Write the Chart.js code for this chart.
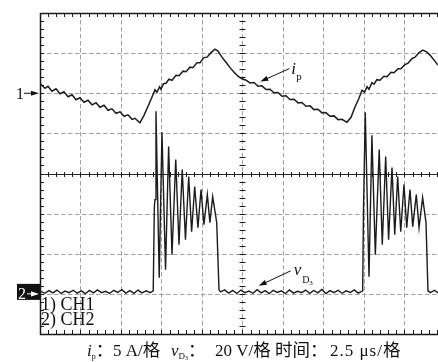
<!DOCTYPE html>
<html>
<head>
<meta charset="utf-8">
<script src="https://cdn.jsdelivr.net/npm/chart.js@4.4.0/dist/chart.umd.min.js"></script>
<style>
  html, body { margin: 0; padding: 0; background: #fff; }
</style>
</head>
<body>
<canvas id="scope" width="438" height="362"></canvas>
<script>
// time in μs, CH1 = i_p in A (5 A/div), CH2 = v_D3 in V (20 V/div)
const timeRange = [0, 24.57];
const currentRange = [-30, 10];
const voltageRange = [-20, 140];
const timePerDiv = 2.5;
const currentPerDiv = 5;

const ch1Time = [0.06, 0.31, 0.49, 0.74, 0.99, 1.23, 1.48, 1.73, 1.98, 2.22, 2.47, 2.72, 2.96, 3.21, 3.46, 3.70, 3.95, 4.20, 4.44, 4.69, 4.94, 5.19, 5.43, 5.68, 5.86, 6.17,
  6.42, 6.67, 6.91, 7.10, 7.22, 7.38, 7.47, 7.62,
  7.78, 7.96, 8.15, 8.40, 8.58, 8.83, 9.01, 9.26, 9.44, 9.69, 9.88, 10.12, 10.31, 10.56, 10.80,
  10.99, 11.23, 11.48, 11.73, 11.98, 12.22, 12.47, 12.72,
  12.96, 13.21, 13.46, 13.70, 13.95, 14.20, 14.44, 14.69, 14.94, 15.19, 15.43, 15.68, 15.93, 16.17, 16.42, 16.67, 16.91, 17.16, 17.41, 17.65, 17.90, 18.15, 18.40, 18.64, 18.95,
  19.20, 19.44, 19.69, 19.88, 20.03, 20.19, 20.31,
  20.49, 20.62, 20.80, 20.99, 21.23, 21.42, 21.67, 21.85, 22.10, 22.28, 22.53, 22.72, 22.96, 23.15, 23.40, 23.64, 23.89, 24.14, 24.38, 24.57];
const ch1Current = [1.12, 0.62, 0.87, 0.25, 0.56, -0.06, 0.19, -0.44, -0.19, -0.81, -0.56, -1.12, -0.87, -1.44, -1.19, -1.75, -1.50, -2.12, -1.94, -2.50, -2.31, -2.87, -2.69, -3.25, -3.12, -3.69,
  -2.75, -1.62, -0.50, 0.44, 0.12, 0.81, 0.50, 1.19,
  1.25, 1.75, 1.62, 2.25, 2.19, 2.75, 2.69, 3.25, 3.19, 3.81, 3.81, 4.44, 4.50, 5.06, 5.50,
  5.25, 4.50, 3.87, 3.19, 2.62, 2.12, 1.81, 1.62,
  1.29, 1.34, 0.87, 0.92, 0.46, 0.50, 0.05, 0.09, -0.37, -0.32, -0.79, -0.75, -1.20, -1.16, -1.62, -1.57, -2.04, -2.00, -2.45, -2.41, -2.87, -2.82, -3.29, -3.25, -3.62,
  -3.00, -1.75, -0.62, 0.37, 0.12, 0.81, 0.50,
  1.31, 1.12, 1.69, 1.62, 2.12, 2.06, 2.62, 2.56, 3.06, 3.06, 3.56, 3.75, 4.31, 4.50, 5.06, 5.37, 5.12, 4.62, 4.00, 3.50];

const ch2Time = [0.05, 0.30, 0.55, 0.80, 1.05, 1.30, 1.55, 1.80, 2.05, 2.30, 2.55, 2.80, 3.05, 3.30, 3.55, 3.80, 4.05, 4.30, 4.55, 4.80, 5.05, 5.30, 5.55, 5.80, 6.05, 6.30, 6.55, 6.80,
  6.99, 7.06, 7.10, 7.16, 7.36, 7.53, 7.75, 7.94, 8.15, 8.38, 8.58, 8.78, 8.98, 9.18, 9.36, 9.55, 9.75, 9.94, 10.12, 10.33, 10.49, 10.66, 10.91, 11.05,
  11.15, 11.40, 11.65, 11.90, 12.15, 12.40, 12.65, 12.90, 13.15, 13.40, 13.65, 13.90, 14.15, 14.40, 14.65, 14.90, 15.15, 15.40, 15.65, 15.90, 16.15, 16.40, 16.65, 16.90, 17.15, 17.40, 17.65, 17.90, 18.15, 18.40, 18.65, 18.90, 19.15, 19.40, 19.65,
  19.92, 19.97, 20.08, 20.31, 20.49, 20.70, 20.94, 21.13, 21.34, 21.52, 21.73, 21.90, 22.08, 22.27, 22.47, 22.64, 22.84, 23.01, 23.23, 23.40, 23.62, 23.83, 23.95,
  24.10, 24.35, 24.57];
const ch2Voltage = [1.2, 0.3, 1.6, 0.5, 1.9, 0.2, 1.4, 0.6, 1.8, 0.4, 1.5, 0.1, 1.7, 0.5, 2.0, 0.6, 1.3, 0.2, 1.8, 0.7, 2.1, 0.4, 1.6, 0.3, 1.9, 0.5, 1.5, 0.6,
  1.5, 43.5, 47, 91, 8, 80.5, 12, 73.5, 19.5, 67, 24.5, 62, 27, 58.5, 31, 53.5, 33, 52, 34.5, 49.5, 35.5, 48.5, 35.5, 2,
  1.0, 2.0, 0.4, 1.7, 0.2, 1.9, 0.6, 1.4, 0.3, 2.1, 0.5, 1.6, 0.1, 1.8, 0.7, 1.5, 0.2, 2.0, 0.4, 1.3, 0.6, 1.9, 0.3, 1.7, 0.5, 2.2, 0.2, 1.6, 0.6, 1.8, 0.3, 1.5, 0.7, 2.0, 0.4,
  1.5, 42, 90.5, 8.5, 79, 19.5, 72, 24.5, 68.5, 27, 63, 29.5, 58.5, 31, 54.5, 33, 52, 33.5, 49.5, 33, 48, 35.5, 1.5,
  0.6, 1.8, 0.5];

// arrow labels point at these spots on the traces
const ipLabelAt = { t: 13.6, i: 1.45 };
const vdLabelAt = { t: 13.5, v: 4 };

const serif = '"Liberation Serif", "Noto Sans CJK SC", serif';
const cjk = '"Noto Sans CJK SC", sans-serif';

function arrow(ctx, x1, y1, x2, y2, color) {
  const ang = Math.atan2(y2 - y1, x2 - x1);
  ctx.strokeStyle = color;
  ctx.fillStyle = color;
  ctx.lineWidth = 1;
  ctx.beginPath();
  ctx.moveTo(x1, y1);
  ctx.lineTo(x2 - 5 * Math.cos(ang), y2 - 5 * Math.sin(ang));
  ctx.stroke();
  ctx.beginPath();
  ctx.moveTo(x2, y2);
  ctx.lineTo(x2 - 8 * Math.cos(ang) + 2.6 * Math.sin(ang), y2 - 8 * Math.sin(ang) - 2.6 * Math.cos(ang));
  ctx.lineTo(x2 - 8 * Math.cos(ang) - 2.6 * Math.sin(ang), y2 - 8 * Math.sin(ang) + 2.6 * Math.cos(ang));
  ctx.closePath();
  ctx.fill();
}

function seg(ctx, x1, y1, x2, y2) {
  ctx.beginPath();
  ctx.moveTo(x1, y1);
  ctx.lineTo(x2, y2);
  ctx.stroke();
}

function txt(ctx, s, font, x, y) {
  ctx.font = font;
  ctx.fillText(s, x, y);
}

// draws pieces one after another: [text, font, baseline shift]
function chain(ctx, parts, x, y) {
  parts.forEach(([s, font, dy]) => {
    ctx.font = font;
    ctx.fillText(s, x, y + (dy || 0));
    x += ctx.measureText(s).width;
  });
  return x;
}

const scopeGrid = {
  id: 'scopeGrid',
  beforeDatasetsDraw(chart) {
    const { ctx, chartArea: a } = chart;
    const sx = chart.scales.x, sy = chart.scales.yI;
    const midT = timePerDiv * 5;
    const midI = currentRange[0] + currentPerDiv * 4;
    ctx.save();
    // dashed division lines
    ctx.lineWidth = 1;
    ctx.strokeStyle = '#a2a2a2';
    ctx.setLineDash([4.5, 2.5]);
    sx.ticks.forEach(tk => {
      if (tk.value <= timeRange[0]) return;
      const px = Math.round(sx.getPixelForValue(tk.value)) + 0.5;
      seg(ctx, px, a.top, px, a.bottom);
    });
    sy.ticks.forEach(tk => {
      if (tk.value <= currentRange[0] || tk.value >= currentRange[1] || tk.value === midI) return;
      const py = Math.round(sy.getPixelForValue(tk.value)) + 0.5;
      seg(ctx, a.left, py, a.right, py);
    });
    ctx.setLineDash([]);
    // centre horizontal axis
    const cy = Math.round(sy.getPixelForValue(midI)) + 0.5;
    const cx = Math.round(sx.getPixelForValue(midT)) + 0.5;
    ctx.strokeStyle = '#2a2a2a';
    seg(ctx, a.left, cy, a.right, cy);
    // minor ticks, 5 per division
    ctx.strokeStyle = '#1a1a1a';
    for (let k = 0; k * timePerDiv / 5 <= timeRange[1]; k++) {
      const px = Math.round(sx.getPixelForValue(k * timePerDiv / 5)) + 0.5;
      seg(ctx, px, a.top, px, a.top + 4);
      seg(ctx, px, a.bottom, px, a.bottom - 4);
      seg(ctx, px, cy - 2.5, px, cy + 2.5);
    }
    for (let k = 0; k <= 40; k++) {
      const py = Math.round(sy.getPixelForValue(currentRange[0] + k * currentPerDiv / 5)) + 0.5;
      seg(ctx, a.left, py, a.left + 4, py);
      seg(ctx, cx - 3, py, cx + 3, py);
    }
    // frame
    ctx.lineWidth = 1.5;
    seg(ctx, a.left + 0.5, a.top, a.left + 0.5, a.bottom + 1);
    seg(ctx, a.left, a.top + 0.5, a.right, a.top + 0.5);
    seg(ctx, a.left, a.bottom + 0.5, a.right, a.bottom + 0.5);
    ctx.restore();
  },
  afterDatasetsDraw(chart) {
    const { ctx, chartArea: a } = chart;
    const sx = chart.scales.x, sy = chart.scales.yI, sv = chart.scales.yV;
    ctx.save();
    ctx.textBaseline = 'alphabetic';
    // channel markers
    const y1 = sy.getPixelForValue(0);
    ctx.fillStyle = '#111';
    txt(ctx, '1', '16px ' + serif, 16, y1 + 5.5);
    arrow(ctx, 24, y1, a.left - 1, y1, '#111');
    const y2 = sv.getPixelForValue(0);
    ctx.fillStyle = '#111';
    ctx.fillRect(17, y2 - 10, 23, 16);
    ctx.fillStyle = '#fff';
    txt(ctx, '2', '16px ' + serif, 18, y2 + 5);
    arrow(ctx, 27, y2, a.left - 1, y2, '#fff');
    // channel legend
    ctx.fillStyle = '#111';
    txt(ctx, '1) CH1', '18px ' + serif, a.left + 1, 310);
    txt(ctx, '2) CH2', '18px ' + serif, a.left + 1, 325);
    // i_p label
    const ipx = sx.getPixelForValue(ipLabelAt.t), ipy = sy.getPixelForValue(ipLabelAt.i);
    arrow(ctx, ipx + 29, ipy - 13, ipx, ipy, '#111');
    txt(ctx, 'i', 'italic 17px ' + serif, ipx + 31, ipy - 8);
    txt(ctx, 'p', '11px ' + serif, ipx + 36, ipy - 2);
    // v_D3 label
    const vdx = sx.getPixelForValue(vdLabelAt.t), vdy = sv.getPixelForValue(vdLabelAt.v);
    arrow(ctx, vdx + 32, vdy - 15, vdx, vdy, '#111');
    txt(ctx, 'v', 'italic 17px ' + serif, vdx + 35, vdy - 11);
    txt(ctx, 'D', '10px ' + serif, vdx + 43.5, vdy - 3);
    txt(ctx, '3', '7px ' + serif, vdx + 50.5, vdy - 0.5);
    // caption: i_p：5 A/格 v_D3：20 V/格 时间：2.5 μs/格
    const base = 356;
    const lat = '17px ' + serif, han = '17.5px ' + cjk, it = 'italic 17px ' + serif;
    chain(ctx, [['i', it], ['p', '8px ' + serif, 3], ['：', han]], 87, base);
    chain(ctx, [['5 A/', lat], ['格', han]], 113, base);
    chain(ctx, [['v', it], ['D', '9px ' + serif, 3], ['3', '6px ' + serif, 4], ['：', han]], 171, base);
    chain(ctx, [['20 V/', lat], ['格', han]], 215, base);
    chain(ctx, [['时间：', han]], 275, base);
    ctx.letterSpacing = '1px';
    const unitEnd = chain(ctx, [['2.5 μs/', lat]], 330, base);
    ctx.letterSpacing = '0px';
    chain(ctx, [['格', han]], unitEnd, base);
    ctx.restore();
  }
};

const ch1Points = ch1Time.map((t, k) => ({ x: t, y: ch1Current[k] }));
const ch2Points = ch2Time.map((t, k) => ({ x: t, y: ch2Voltage[k] }));

new Chart(document.getElementById('scope').getContext('2d'), {
  type: 'line',
  data: {
    datasets: [
      { label: 'CH1', data: ch1Points, yAxisID: 'yI', borderColor: '#1c1c1c', borderWidth: 1.5, pointRadius: 0, tension: 0, fill: false },
      { label: 'CH2', data: ch2Points, yAxisID: 'yV', borderColor: '#1c1c1c', borderWidth: 1.4, pointRadius: 0, tension: 0, fill: false }
    ]
  },
  options: {
    responsive: false,
    animation: false,
    layout: { padding: { left: 40, top: 13, right: 0, bottom: 28 } },
    plugins: { legend: { display: false }, tooltip: { enabled: false } },
    scales: {
      x: { type: 'linear', display: false, min: timeRange[0], max: timeRange[1], ticks: { stepSize: timePerDiv, includeBounds: false } },
      yI: { type: 'linear', display: false, min: currentRange[0], max: currentRange[1], ticks: { stepSize: currentPerDiv } },
      yV: { type: 'linear', display: false, min: voltageRange[0], max: voltageRange[1] }
    }
  },
  plugins: [scopeGrid]
});
</script>
</body>
</html>
